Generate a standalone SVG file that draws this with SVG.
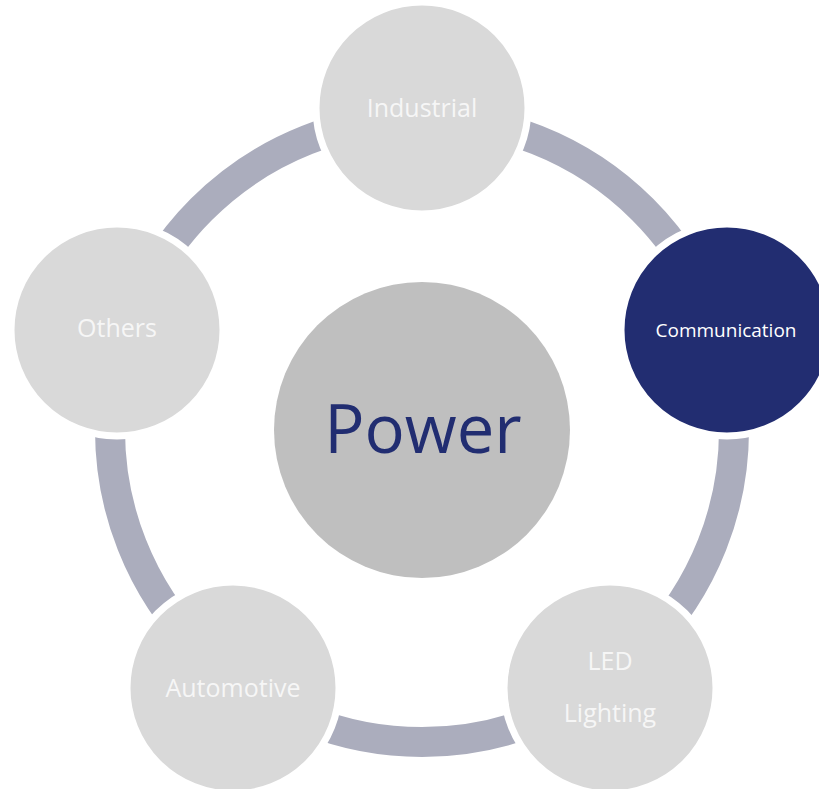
<svg xmlns="http://www.w3.org/2000/svg" width="819" height="789" viewBox="0 0 819 789">
<style>
.sat{fill:#D9D9D9;stroke:#FFFFFF;stroke-width:7}
.hl{fill:#222D71;stroke:#FFFFFF;stroke-width:7}
.lbl{font-family:"Open Sans","Noto Sans","Liberation Sans",sans-serif;fill:#F6F6F6;font-size:25px;text-anchor:middle}
</style>
<rect width="819" height="789" fill="#FFFFFF"/>
<g id="connectors">
<circle cx="422" cy="430" r="312" fill="none" stroke="#ABADBD" stroke-width="30"/>
</g>
<g id="power">
<circle cx="422" cy="430" r="148" fill="#BFBFBF"/>
<text x="423" y="453" font-family="Open Sans,Noto Sans,Liberation Sans,sans-serif" font-size="67" fill="#212D71" text-anchor="middle">Power</text>
</g>
<g id="industrial">
<circle class="sat" cx="422" cy="108" r="106"/>
<text class="lbl" x="422" y="117">Industrial</text>
</g>
<g id="communication">
<circle class="hl" cx="727" cy="330" r="106"/>
<text class="lbl" x="726" y="337" style="font-size:19px;fill:#FFFFFF">Communication</text>
</g>
<g id="led-lighting">
<circle class="sat" cx="610" cy="688" r="106"/>
<text class="lbl" x="610" y="670">LED</text>
<text class="lbl" x="610" y="722">Lighting</text>
</g>
<g id="automotive">
<circle class="sat" cx="233" cy="688" r="106"/>
<text class="lbl" x="233" y="697">Automotive</text>
</g>
<g id="others">
<circle class="sat" cx="117" cy="330" r="106"/>
<text class="lbl" x="117" y="337">Others</text>
</g>
</svg>
